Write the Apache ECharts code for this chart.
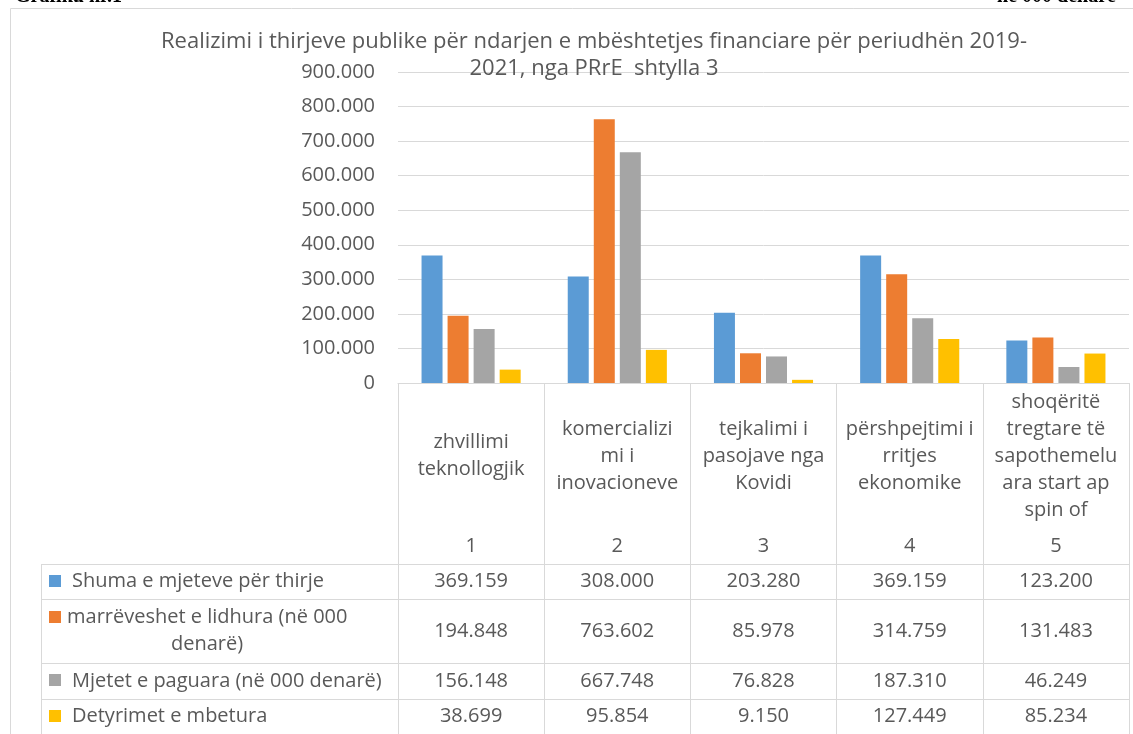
<!DOCTYPE html>
<html>
<head>
<meta charset="utf-8">
<script src="https://cdn.jsdelivr.net/npm/echarts@6/dist/echarts.min.js"></script>
<style>
  html, body { margin: 0; padding: 0; background: #fff; }
  #chart { width: 1133px; height: 734px; }
</style>
</head>
<body>
<div id="chart"></div>
<script>
// kategorite (te ndara ne rreshta si ne tabele)
const categories = [
  ['zhvillimi', 'teknollogjik'],
  ['komercializi', 'mi i', 'inovacioneve'],
  ['tejkalimi i', 'pasojave nga', 'Kovidi'],
  ['përshpejtimi i', 'rritjes', 'ekonomike'],
  ['shoqëritë', 'tregtare të', 'sapothemelu', 'ara start ap', 'spin of']
]
const categoryNumbers = ['1', '2', '3', '4', '5']

const seriesNames = [
  'Shuma e mjeteve për thirje',
  'marrëveshet e lidhura (në 000 denarë)',
  'Mjetet e paguara (në 000 denarë)',
  'Detyrimet e mbetura'
]
const shumaMjeteve = [369159, 308000, 203280, 369159, 123200]
const marreveshjet = [194848, 763602, 85978, 314759, 131483]
const mjetetPaguara = [156148, 667748, 76828, 187310, 46249]
const detyrimet = [38699, 95854, 9150, 127449, 85234]
const colors = ['#5B9BD5', '#ED7D31', '#A5A5A5', '#FFC000']

const yTicks = { min: 0, max: 900000, interval: 100000 }

const FONT = 'Open Sans'
const TEXT = '#595959'
const LINE = '#d9d9d9'
const FS = 20

const fmt = n => String(n).replace(/\B(?=(\d{3})+(?!\d))/g, '.')

const chart = echarts.init(document.getElementById('chart'))
const allSeries = [shumaMjeteve, marreveshjet, mjetetPaguara, detyrimet]

chart.setOption({
  animation: false,
  title: {
    text: 'Realizimi i thirjeve publike për ndarjen e mbështetjes financiare për periudhën 2019-\n2021, nga PRrE  shtylla 3',
    left: 589,
    top: 23,
    textAlign: 'center',
    textStyle: { fontFamily: FONT, fontSize: 22, fontWeight: 'normal', color: TEXT, lineHeight: 27 }
  },
  grid: { left: 398, right: 4, top: 72, bottom: 351 },
  xAxis: {
    type: 'category',
    data: categoryNumbers,
    axisLine: { show: true, lineStyle: { color: LINE, width: 1 } },
    axisTick: { show: true, length: 380, lineStyle: { color: LINE, width: 1 } },
    axisLabel: { show: false }
  },
  yAxis: {
    type: 'value',
    min: yTicks.min,
    max: yTicks.max,
    interval: yTicks.interval,
    axisLine: { show: false },
    axisTick: { show: false },
    splitLine: { lineStyle: { color: LINE, width: 1 } },
    axisLabel: {
      margin: 23,
      color: TEXT,
      fontFamily: FONT,
      fontSize: FS,
      formatter: v => fmt(v)
    }
  },
  series: allSeries.map((d, i) => ({
    name: seriesNames[i],
    type: 'bar',
    data: d,
    barWidth: 21,
    barGap: '24%',
    itemStyle: { color: colors[i] }
  }))
})

// tabela e te dhenave poshte grafikut
const rowLines = [564, 599, 663, 699]
const rowCenters = [581, 631, 681, 716]
const keyY = [581, 617, 680, 716]
const gridRight = 1129
const g = []

// korniza e jashtme
g.push({ type: 'rect', shape: { x: 10.5, y: 8.5, width: 1140, height: 760 },
  style: { fill: null, stroke: LINE, lineWidth: 1 }, silent: true })

// titujt e prere lart
g.push({ type: 'text', x: 15, y: 7, style: { text: 'Grafiku nr.1', fontFamily: 'Liberation Serif',
  fontWeight: 'bold', fontSize: 20, fill: '#000', verticalAlign: 'bottom' } })
g.push({ type: 'text', x: 1116, y: 7, style: { text: 'në 000 denarë', fontFamily: 'Liberation Serif',
  fontWeight: 'bold', fontSize: 20, fill: '#000', align: 'right', verticalAlign: 'bottom' } })

rowLines.forEach(y => {
  g.push({ type: 'line', shape: { x1: 41, y1: y + 0.5, x2: gridRight, y2: y + 0.5 },
    style: { stroke: LINE, lineWidth: 1 }, silent: true })
})
g.push({ type: 'line', shape: { x1: 41.5, y1: rowLines[0], x2: 41.5, y2: 740 },
  style: { stroke: LINE, lineWidth: 1 }, silent: true })

// emrat e kategorive dhe numrat
categories.forEach((lines, c) => {
  const cx = chart.convertToPixel({ xAxisIndex: 0 }, categoryNumbers[c])
  const top = 456 - (lines.length * 27) / 2
  lines.forEach((t, k) => {
    g.push({ type: 'text', x: cx, y: top + 13.5 + k * 27, style: { text: t, fontFamily: FONT,
      fontSize: FS, fill: TEXT, align: 'center', verticalAlign: 'middle' } })
  })
  g.push({ type: 'text', x: cx, y: 546, style: { text: categoryNumbers[c], fontFamily: FONT,
    fontSize: FS, fill: TEXT, align: 'center', verticalAlign: 'middle' } })
  allSeries.forEach((d, s) => {
    g.push({ type: 'text', x: cx, y: rowCenters[s], style: { text: fmt(d[c]), fontFamily: FONT,
      fontSize: FS, fill: TEXT, align: 'center', verticalAlign: 'middle' } })
  })
})

// celesat e legjendes
seriesNames.forEach((name, s) => {
  g.push({ type: 'rect', shape: { x: 49, y: keyY[s] - 6, width: 12, height: 12 },
    style: { fill: colors[s] }, silent: true })
  if (s === 1) {
    g.push({ type: 'text', x: 67, y: 617, style: { text: 'marrëveshet e lidhura (në 000', fontFamily: FONT,
      fontSize: FS, fill: TEXT, verticalAlign: 'middle' } })
    g.push({ type: 'text', x: 207, y: 644, style: { text: 'denarë)', fontFamily: FONT,
      fontSize: FS, fill: TEXT, align: 'center', verticalAlign: 'middle' } })
  } else {
    g.push({ type: 'text', x: 72, y: rowCenters[s], style: { text: name, fontFamily: FONT,
      fontSize: FS, fill: TEXT, verticalAlign: 'middle' } })
  }
})

chart.setOption({ graphic: g })
</script>
</body>
</html>
